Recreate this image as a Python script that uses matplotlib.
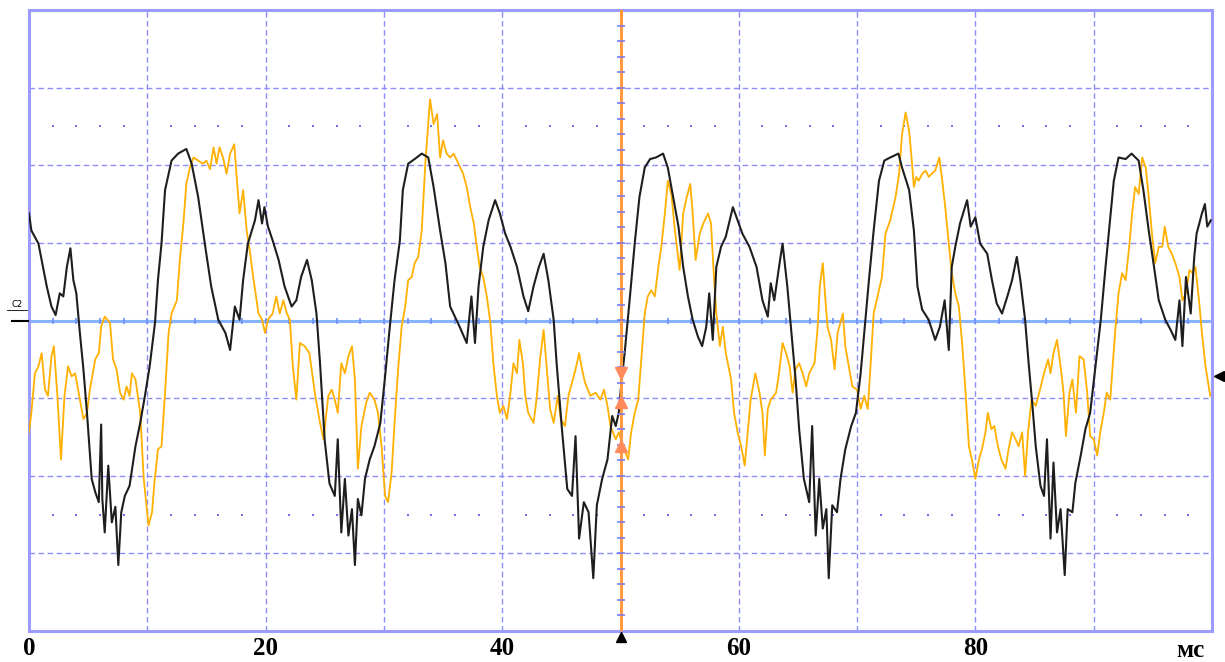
import numpy as np
import matplotlib
matplotlib.use('Agg')
import matplotlib.pyplot as plt

# oscilloscope screen: 10 ms / div, 8 vertical divisions
black_t = [0.0, 0.2, 0.8, 1.07, 1.5, 1.9, 2.25, 2.6, 2.9, 3.2, 3.5, 3.75, 4.0, 4.3, 4.6, 4.9,
           5.3, 5.6, 5.9, 6.1, 6.2, 6.4, 6.7, 7.0, 7.3, 7.55, 7.8, 8.1, 8.5, 9.0, 9.4, 9.8,
           10.2, 10.65, 10.9, 11.2, 11.5, 12.05, 12.6, 13.3, 13.75, 14.3, 14.9, 15.4, 16.0, 16.6,
           17.0, 17.4, 17.8, 18.1, 18.5, 19.1, 19.4, 19.7, 19.9, 20.2, 20.6, 21.1, 21.6, 22.2,
           22.6, 23.0, 23.5, 23.9, 24.3, 24.6, 25.0, 25.4, 25.85, 26.1, 26.4, 26.7, 27.0, 27.3,
           27.55, 27.8, 28.1, 28.4, 28.8, 29.2, 29.7, 30.1, 30.5, 30.9, 31.35, 31.6, 32.05, 32.6,
           33.2, 33.75, 34.2, 34.75, 35.2, 35.6, 36.0, 36.4, 37.0, 37.4, 37.7, 38.0, 38.4, 38.85,
           39.4, 39.8, 40.25, 40.7, 41.25, 41.8, 42.2, 42.65, 43.1, 43.5, 43.9, 44.35, 44.6, 45.05,
           45.5, 45.9, 46.2, 46.5, 46.9, 47.3, 47.7, 48.0, 48.45, 48.9, 49.3, 49.6, 49.85, 50.1,
           50.35, 50.8, 51.2, 51.6, 52.05, 52.5, 53.0, 53.6, 54.0, 54.45, 54.9, 55.3, 55.7, 56.1,
           56.55, 56.9, 57.25, 57.5, 57.8, 58.1, 58.5, 58.9, 59.5, 59.9, 60.3, 60.9, 61.5, 62.0,
           62.45, 62.7, 63.0, 63.4, 63.7, 64.1, 64.55, 64.8, 65.1, 65.5, 65.95, 66.2, 66.5, 66.8,
           67.1, 67.4, 67.6, 67.9, 68.3, 68.6, 69.0, 69.5, 69.9, 70.3, 70.7, 71.0, 71.4, 71.85,
           72.3, 72.8, 73.5, 73.8, 74.4, 74.8, 75.1, 75.5, 76.05, 76.6, 77.0, 77.4, 77.75, 78.0,
           78.3, 78.7, 79.3, 79.6, 80.0, 80.4, 81.0, 81.4, 81.8, 82.25, 82.7, 83.1, 83.5, 83.8,
           84.2, 84.5, 84.8, 85.1, 85.5, 85.8, 86.05, 86.35, 86.6, 86.9, 87.2, 87.55, 87.8, 88.2,
           88.45, 88.9, 89.3, 89.7, 90.15, 90.6, 91.0, 91.3, 91.7, 92.1, 92.7, 93.2, 93.8, 94.2,
           94.65, 95.1, 95.5, 96.05, 96.5, 96.9, 97.25, 97.5, 97.8, 98.2, 98.5, 98.7, 99.15, 99.4,
           99.6, 99.9]
black_v = [1.38, 1.16, 0.99, 0.78, 0.44, 0.18, 0.07, 0.35, 0.31, 0.69, 0.93, 0.52, 0.35, -0.16, -0.63, -1.19,
           -2.04, -2.21, -2.34, -1.34, -2.3, -2.73, -1.87, -2.6, -2.4, -3.15, -2.47, -2.26, -2.13, -1.62, -1.32, -0.97,
           -0.59, -0.03, 0.52, 0.99, 1.68, 2.06, 2.15, 2.21, 2.02, 1.59, 0.95, 0.44, 0.01, -0.16,
           -0.38, 0.18, 0.01, 0.52, 0.99, 1.29, 1.55, 1.25, 1.46, 1.21, 1.03, 0.78, 0.44, 0.18,
           0.26, 0.56, 0.78, 0.52, 0.09, -0.55, -1.55, -2.1, -2.26, -1.53, -2.73, -2.04, -2.77, -2.43,
           -3.15, -2.3, -2.51, -2.04, -1.79, -1.62, -1.32, -0.72, -0.08, 0.52, 1.03, 1.68, 2.02, 2.08,
           2.15, 2.1, 1.72, 1.16, 0.74, 0.18, 0.05, -0.08, -0.29, 0.31, -0.29, 0.44, 0.95, 1.29,
           1.55, 1.38, 1.12, 0.95, 0.69, 0.31, 0.12, 0.44, 0.69, 0.86, 0.52, 0.01, -0.55, -1.4,
           -2.17, -2.26, -1.49, -2.81, -2.34, -2.47, -3.32, -2.38, -2.04, -1.79, -1.23, -1.36, -1.19, -0.76,
           -0.42, 0.31, 0.99, 1.59, 1.97, 2.08, 2.1, 2.15, 1.97, 1.59, 1.21, 0.69, 0.31, 0.01,
           -0.21, -0.33, -0.08, 0.35, -0.25, 0.69, 0.95, 1.08, 1.46, 1.29, 1.12, 0.95, 0.69, 0.26,
           0.05, 0.48, 0.26, 0.69, 0.99, 0.44, -0.33, -0.76, -1.4, -2.04, -2.34, -1.36, -2.77, -2.04,
           -2.68, -2.43, -3.32, -2.38, -2.47, -2.04, -1.66, -1.36, -1.19, -0.68, 0.01, 0.52, 1.16, 1.8,
           2.06, 2.1, 2.15, 1.97, 1.68, 1.16, 0.44, 0.14, 0.01, -0.25, -0.08, 0.26, -0.38, 0.69,
           0.95, 1.25, 1.55, 1.21, 1.33, 0.99, 0.86, 0.52, 0.22, 0.09, 0.31, 0.52, 0.82, 0.52,
           0.01, -0.55, -1.06, -1.62, -2.13, -2.26, -1.53, -2.81, -1.83, -2.73, -2.43, -3.28, -2.43, -2.47,
           -2.09, -1.74, -1.4, -1.19, -0.59, 0.01, 0.69, 1.16, 1.8, 2.1, 2.08, 2.15, 2.06, 1.68,
           1.16, 0.69, 0.26, 0.01, -0.12, -0.25, 0.26, -0.33, 0.56, 0.09, 0.82, 1.12, 1.38, 1.5,
           1.21, 1.29]

yellow_t = [0.0, 0.2, 0.5, 0.8, 1.07, 1.35, 1.6, 1.9, 2.1, 2.4, 2.7, 3.0, 3.3, 3.6, 3.9, 4.2,
            4.6, 4.9, 5.15, 5.6, 5.9, 6.1, 6.4, 6.85, 7.1, 7.4, 7.7, 8.0, 8.25, 8.5, 8.7, 9.0,
            9.4, 9.7, 10.1, 10.4, 10.6, 10.9, 11.2, 11.5, 11.8, 12.05, 12.5, 12.75, 13.05, 13.3,
            13.6, 13.9, 14.3, 14.7, 15.0, 15.3, 15.6, 15.85, 16.1, 16.4, 16.7, 17.0, 17.35, 17.6,
            17.8, 18.1, 18.4, 18.7, 18.95, 19.4, 19.7, 19.95, 20.2, 20.6, 20.9, 21.2, 21.5, 21.8,
            22.05, 22.3, 22.6, 22.9, 23.3, 23.7, 24.2, 24.6, 24.9, 25.3, 25.6, 25.85, 26.1, 26.4,
            26.7, 27.0, 27.3, 27.55, 27.8, 28.1, 28.5, 28.8, 29.2, 29.5, 29.8, 30.1, 30.35, 30.65,
            30.9, 31.2, 31.5, 31.8, 32.05, 32.35, 32.6, 32.9, 33.2, 33.5, 33.7, 33.9, 34.2, 34.5,
            34.75, 35.0, 35.3, 35.6, 35.9, 36.3, 36.7, 37.0, 37.3, 37.6, 37.85, 38.1, 38.4, 38.7,
            39.0, 39.25, 39.55, 39.8, 40.1, 40.4, 40.7, 40.95, 41.25, 41.45, 41.75, 41.95, 42.2, 42.65,
            42.9, 43.2, 43.5, 43.8, 44.05, 44.35, 44.7, 44.95, 45.3, 45.6, 45.9, 46.2, 46.5, 46.75,
            47.0, 47.45, 47.9, 48.3, 48.6, 48.9, 49.15, 49.6, 49.85, 50.2, 50.65, 50.9, 51.2, 51.5,
            51.8, 52.05, 52.3, 52.6, 52.9, 53.2, 53.45, 53.75, 54.0, 54.3, 54.6, 55.0, 55.3, 55.6,
            55.9, 56.1, 56.35, 56.7, 57.0, 57.4, 57.65, 57.85, 58.1, 58.4, 58.65, 58.9, 59.35, 59.6,
            59.9, 60.2, 60.5, 60.75, 61.0, 61.4, 61.75, 62.0, 62.2, 62.45, 62.7, 63.15, 63.4, 63.7,
            64.0, 64.3, 64.55, 64.8, 65.1, 65.4, 65.7, 65.95, 66.4, 66.65, 66.85, 67.1, 67.3, 67.5,
            67.8, 68.1, 68.35, 68.8, 69.0, 69.3, 69.6, 70.0, 70.3, 70.6, 70.9, 71.15, 71.4, 71.85,
            72.1, 72.4, 72.8, 73.25, 73.55, 73.8, 74.1, 74.4, 74.6, 74.8, 75.0, 75.2, 75.5, 75.8,
            76.05, 76.3, 76.6, 76.95, 77.2, 77.45, 77.75, 78.0, 78.3, 78.6, 78.9, 79.15, 79.45, 79.7,
            80.0, 80.3, 80.55, 80.85, 81.05, 81.35, 81.6, 81.9, 82.2, 82.55, 82.8, 83.1, 83.4, 83.65,
            83.95, 84.2, 84.45, 84.75, 85.1, 85.4, 85.8, 86.15, 86.35, 86.6, 86.9, 87.2, 87.45, 87.65,
            87.95, 88.2, 88.5, 88.8, 89.15, 89.45, 89.7, 90.0, 90.3, 90.55, 90.85, 91.1, 91.4, 91.6,
            91.85, 92.1, 92.4, 92.7, 93.0, 93.25, 93.5, 93.8, 94.1, 94.4, 94.65, 94.95, 95.2, 95.5,
            95.8, 96.0, 96.3, 96.6, 96.9, 97.25, 97.5, 97.8, 98.1, 98.35, 98.6, 98.9, 99.15, 99.45,
            99.85]
yellow_v = [-1.44, -1.19, -0.68, -0.59, -0.42, -0.89, -0.97, -0.46, -0.33, -0.97, -1.79, -0.97, -0.59, -0.72, -0.68, -0.93,
            -1.27, -1.19, -0.89, -0.5, -0.42, -0.08, 0.05, -0.03, -0.5, -0.63, -0.93, -1.02, -0.85, -0.97, -0.68, -0.76,
            -1.19, -2.04, -2.64, -2.47, -2.09, -1.66, -1.62, -0.93, -0.16, 0.09, 0.26, 0.78, 1.25, 1.76,
            1.97, 2.1, 2.06, 2.02, 2.06, 1.95, 2.23, 2.02, 2.23, 2.1, 1.89, 2.15, 2.27, 1.76,
            1.38, 1.68, 1.16, 0.86, 0.56, 0.09, 0.01, -0.16, 0.01, 0.09, 0.31, 0.09, 0.26, 0.09,
            0.01, -0.59, -1.02, -0.29, -0.33, -0.42, -0.97, -1.32, -1.53, -0.97, -0.89, -1.02, -1.19, -0.55,
            -0.68, -0.46, -0.33, -0.76, -1.91, -1.36, -1.06, -0.93, -1.02, -1.19, -1.62, -2.26, -2.34, -1.96,
            -1.32, -0.63, -0.08, 0.18, 0.52, 0.56, 0.74, 0.82, 1.16, 2.02, 2.44, 2.85, 2.53, 2.66,
            2.1, 2.32, 2.15, 2.1, 2.15, 2.02, 1.89, 1.72, 1.46, 1.25, 0.95, 0.69, 0.56, 0.31,
            -0.03, -0.55, -0.97, -1.19, -1.1, -1.27, -0.93, -0.55, -0.68, -0.25, -0.55, -0.97, -1.19, -1.32,
            -1.02, -0.5, -0.12, -0.68, -1.14, -1.32, -0.97, -1.27, -1.36, -0.97, -0.8, -0.63, -0.42, -0.63,
            -0.8, -0.97, -0.93, -1.02, -0.89, -1.1, -1.36, -1.53, -1.44, -1.62, -1.79, -1.44, -1.19, -1.02,
            -0.42, 0.09, 0.31, 0.39, 0.31, 0.69, 0.95, 1.38, 1.8, 1.63, 1.16, 0.65, 1.38, 1.59,
            1.76, 1.38, 0.78, 1.12, 1.25, 1.38, 1.25, 0.69, 0.09, -0.33, -0.08, -0.42, -0.76, -1.19,
            -1.44, -1.62, -1.87, -1.44, -1.02, -0.68, -0.93, -1.19, -1.74, -1.14, -1.02, -0.93, -0.68, -0.29,
            -0.42, -0.59, -0.93, -0.63, -0.55, -0.68, -0.85, -0.68, -0.55, -0.12, 0.44, 0.74, 0.31, -0.08,
            -0.25, -0.63, -0.16, 0.09, -0.33, -0.59, -0.85, -0.89, -1.14, -0.97, -1.14, -0.55, 0.09, 0.39,
            0.56, 1.12, 1.29, 1.59, 1.89, 2.4, 2.68, 2.44, 2.1, 1.72, 1.85, 1.8, 1.89, 1.93,
            1.85, 1.89, 1.93, 2.1, 1.8, 1.46, 0.99, 0.61, 0.35, 0.18, -0.33, -0.89, -1.62, -1.79,
            -2.04, -1.79, -1.66, -1.44, -1.19, -1.4, -1.36, -1.62, -1.79, -1.91, -1.66, -1.44, -1.53, -1.62,
            -1.44, -2.0, -1.44, -1.02, -1.1, -0.93, -0.68, -0.5, -0.68, -0.42, -0.25, -0.59, -0.93, -1.49,
            -0.93, -0.76, -1.19, -0.46, -0.5, -0.93, -1.49, -1.53, -1.74, -1.44, -1.19, -0.93, -1.02, -0.59,
            -0.08, 0.35, 0.61, 0.52, 0.95, 1.38, 1.72, 1.63, 2.1, 1.97, 1.59, 1.08, 0.74, 0.95,
            0.95, 1.21, 0.95, 0.86, 0.74, 0.56, 0.26, 0.35, 0.65, 0.61, 0.69, 0.26, -0.16, -0.59,
            -0.97]

tick_pos = [0, 20, 40, 60, 80]
tick_labels = ['0', '20', '40', '60', '80']
unit_label = 'мс'
cursor_t = 50
cursor_marks_down = [-0.67]
cursor_marks_up = [-1.05, -1.62]
trigger_level = -0.71

grid_blue = '#8c8cff'

fig = plt.figure(figsize=(12.25, 6.62), dpi=100)
ax = fig.add_axes([29 / 1225, 31 / 662, 1183 / 1225, 621 / 662])
ax.set_xlim(0, 100)
ax.set_ylim(-4, 4)

# graticule
for t in range(10, 100, 10):
    ax.axvline(t, color=grid_blue, lw=1.0, ls=(0, (4, 2.5)), zorder=1)
for v in [-3, -2, -1, 1, 2, 3]:
    ax.axhline(v, color=grid_blue, lw=1.0, ls=(0, (4, 2.5)), zorder=1)
ax.axhline(0, color='#86b4ff', lw=2.2, zorder=1)

dot_t = np.array([t for t in range(2, 100, 2) if t % 10])
for v in [2.5, -2.5]:
    ax.plot(dot_t, np.full(len(dot_t), v), ls='none', marker='s', ms=1.6,
            color='#6f6ff2', mew=0, zorder=1)
ax.plot(np.arange(2, 100, 2), np.zeros(49), ls='none', marker='|', ms=5,
        color='#6f8ff5', mew=1.2, zorder=2)

# traces
ax.plot(yellow_t, yellow_v, color='#ffb000', lw=1.3, zorder=3)
ax.plot(black_t, black_v, color='#1e1e1e', lw=1.5, zorder=4)

# cursor line
ax.axvline(cursor_t, color='#ff9a40', lw=2.2, zorder=5)
ax.plot(np.full(39, cursor_t), np.arange(-3.8, 4.0, 0.2), ls='none', marker='_',
        ms=6, color='#7c7cf0', mew=1.2, zorder=6)
ax.plot(np.full(len(cursor_marks_down), cursor_t), cursor_marks_down, ls='none',
        marker='v', ms=9, color='#ff8a5c', zorder=7)
ax.plot(np.full(len(cursor_marks_up), cursor_t), cursor_marks_up, ls='none',
        marker='^', ms=9, color='#ff8a5c', zorder=7)
ax.plot([cursor_t], [-4.08], marker='^', ms=7, color='black', clip_on=False, zorder=8)
ax.plot([100.55], [trigger_level], marker='<', ms=7, color='black', clip_on=False, zorder=8)

# channel marker
ax.text(-1.0, 0.15, 'C2', fontsize=6, ha='center', va='bottom',
        transform=ax.transData, clip_on=False)
ax.plot([-1.45, -0.1], [0, 0], color='black', lw=1.5, clip_on=False, zorder=8)
ax.plot([-1.9, -0.2], [0.13, 0.13], color='black', lw=0.6, clip_on=False, zorder=8)

for s in ax.spines.values():
    s.set_color('#9c9cff')
    s.set_linewidth(2.2)
ax.set_yticks([])
ax.set_xticks(tick_pos, tick_labels)
ax.tick_params(axis='x', length=0, pad=4)
for lab in ax.get_xticklabels():
    lab.set_fontfamily('Liberation Serif')
    lab.set_fontweight('bold')
    lab.set_fontsize(18)
ax.text(98.2, -4.34, unit_label, fontsize=18, fontweight='bold',
        family='Liberation Serif', ha='center', va='baseline', clip_on=False)

fig.savefig('out.png', dpi=100)
